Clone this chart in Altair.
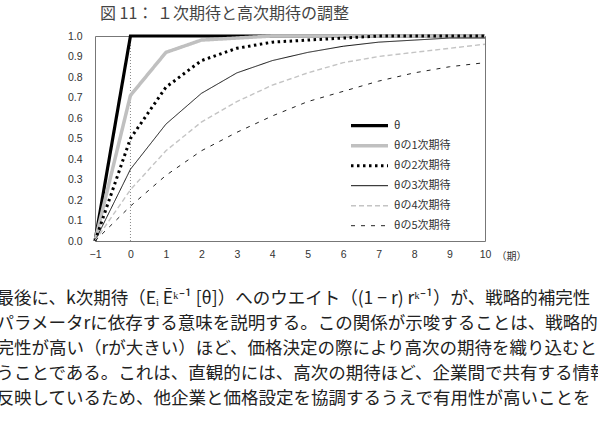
import altair as alt
import pandas as pd

periods = [-1, 0, 1, 2, 3, 4, 5, 6, 7, 8, 9, 10]
series_names = ["θ", "θの1次期待", "θの2次期待", "θの3次期待", "θの4次期待", "θの5次期待"]
theta = [0, 1, 1, 1, 1, 1, 1, 1, 1, 1, 1, 1]
e1 = [0, 0.71, 0.92, 0.98, 0.99, 1.0, 1.0, 1.0, 1.0, 1.0, 1.0, 1.0]
e2 = [0, 0.50, 0.75, 0.88, 0.94, 0.97, 0.98, 0.99, 1.0, 1.0, 1.0, 1.0]
e3 = [0, 0.35, 0.57, 0.72, 0.82, 0.88, 0.92, 0.95, 0.97, 0.98, 0.99, 0.99]
e4 = [0, 0.25, 0.44, 0.58, 0.68, 0.76, 0.82, 0.87, 0.90, 0.92, 0.94, 0.96]
e5 = [0, 0.17, 0.32, 0.44, 0.53, 0.61, 0.68, 0.73, 0.78, 0.82, 0.85, 0.87]
vline_x = [0]
y_ticks = [0.0, 0.1, 0.2, 0.3, 0.4, 0.5, 0.6, 0.7, 0.8, 0.9, 1.0]

fig_title = "図 11： １次期待と高次期待の調整"
paragraph = [
    "最後に、k次期待（Eᵢ Ēᵏ⁻¹ [θ]）へのウエイト（(1 − r) rᵏ⁻¹）が、戦略的補完性",
    "パラメータrに依存する意味を説明する。この関係が示唆することは、戦略的",
    "完性が高い（rが大きい）ほど、価格決定の際により高次の期待を織り込むと",
    "うことである。これは、直観的には、高次の期待ほど、企業間で共有する情報",
    "反映しているため、他企業と価格設定を協調するうえで有用性が高いことを",
]

all_vals = [theta, e1, e2, e3, e4, e5]
rows = []
for name, vals in zip(series_names, all_vals):
    for p, v in zip(periods, vals):
        rows.append({"period": p, "value": v, "series": name})
df = pd.DataFrame(rows)
vdf = pd.DataFrame({"period": vline_x, "value": [0.0], "value2": [1.0]})

colors = ["#000000", "#c0c0c0", "#000000", "#111111", "#c4c4c4", "#222222"]
widths = [3.2, 3.5, 3.0, 1.0, 1.4, 1.0]
dashes = [[1, 0], [1, 0], [2.5, 3.5], [1, 0], [5, 3], [4, 6]]

font = "Noto Sans CJK JP"

xscale = alt.Scale(domain=[-1, 10], nice=False)
yscale = alt.Scale(domain=[0, 1], nice=False)

x_axis = alt.Axis(
    values=periods,
    format="d",
    ticks=False,
    grid=False,
    domain=False,
    labelOverlap=False,
    labelFlush=False,
    labelPadding=8,
    labelFont="Liberation Sans",
    labelFontSize=10.5,
    labelColor="#333333",
    title="（期）",
    titleFont=font,
    titleFontSize=10,
    titleFontWeight="normal",
    titleColor="#333333",
    titleX=416,
    titleY=15,
    titleAlign="center",
    titleBaseline="middle",
)
y_axis = alt.Axis(
    values=y_ticks,
    format=".1f",
    ticks=False,
    grid=False,
    domain=False,
    labelOverlap=False,
    labelFlush=False,
    labelPadding=13,
    labelFont="Liberation Sans",
    labelFontSize=10.5,
    labelColor="#333333",
    title=paragraph,
    titleAngle=0,
    titleAlign="left",
    titleBaseline="top",
    titleX=-99,
    titleY=253,
    titleFont=font,
    titleFontSize=17.5,
    titleFontWeight="normal",
    titleColor="#222222",
    titleLineHeight=25,
)

vline = alt.Chart(vdf).mark_rule(color="#888888", strokeWidth=1, strokeDash=[1, 2]).encode(
    x=alt.X("period:Q", scale=xscale, axis=x_axis),
    y=alt.Y("value:Q", scale=yscale, axis=y_axis),
    y2="value2:Q",
)

lines = alt.Chart(df).mark_line().encode(
    x=alt.X("period:Q", scale=xscale, axis=x_axis),
    y=alt.Y("value:Q", scale=yscale, axis=y_axis),
    color=alt.Color(
        "series:N",
        scale=alt.Scale(domain=series_names, range=colors),
        sort=series_names,
        legend=alt.Legend(
            title=None,
            orient="none",
            legendX=254,
            legendY=80,
            symbolType="stroke",
            symbolSize=1369,
            clipHeight=19.4,
            rowPadding=0,
            labelFont=font,
            labelFontSize=11,
            labelColor="#333333",
            labelOffset=4,
        ),
    ),
    strokeWidth=alt.StrokeWidth(
        "series:N",
        scale=alt.Scale(type="ordinal", domain=series_names, range=widths),
        sort=series_names,
        legend=alt.Legend(title=None),
    ),
    strokeDash=alt.StrokeDash(
        "series:N",
        scale=alt.Scale(domain=series_names, range=dashes),
        sort=series_names,
        legend=alt.Legend(title=None),
    ),
    order=alt.Order("period:Q"),
)

chart = (
    alt.layer(vline, lines)
    .properties(
        width=390,
        height=205,
        autosize=alt.AutoSizeParams(type="none"),
        padding={"left": 95, "top": 36, "right": 113, "bottom": 185},
        title=alt.Title(
            fig_title,
            anchor="start",
            frame="group",
            dx=5,
            offset=7,
            font=font,
            fontSize=16,
            fontWeight="normal",
            color="#444444",
        ),
        background="white",
    )
    .configure_axis(labelOverlap=False)
    .configure_view(stroke="#777777", strokeWidth=1)
)

chart.save("out.html", embed_options={"renderer": "svg", "actions": False})
